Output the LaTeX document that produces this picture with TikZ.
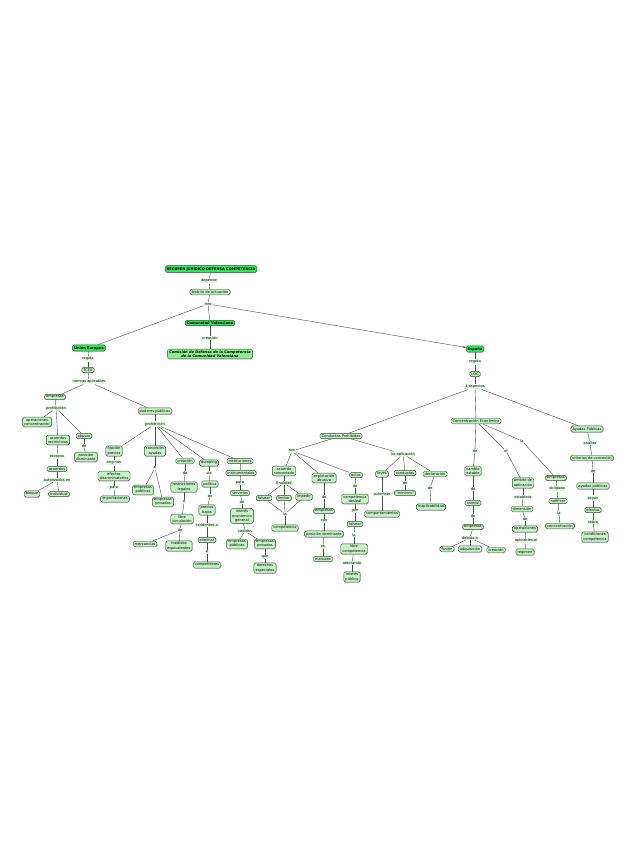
\documentclass[tikz,border=0pt]{standalone}
\usepackage{fontspec}
\setmainfont{DejaVu Sans}
\usetikzlibrary{backgrounds,shadows,arrows.meta}
\definecolor{mainG}{HTML}{2EE65A}
\definecolor{litG}{HTML}{C6F3C6}
\definecolor{comG}{HTML}{8CF08C}
\definecolor{bordG}{HTML}{2F4F2F}
\definecolor{lnkG}{HTML}{E2FAE2}
\definecolor{edgeC}{HTML}{4A4A4A}
\tikzset{
  cpt/.style={draw=bordG, line width=0.45pt, fill=litG, rounded corners=1.6pt, inner xsep=1.6pt, inner ysep=1.3pt,
    align=center, font=\fontsize{3.6}{4.2}\selectfont, drop shadow={shadow xshift=0.5pt, shadow yshift=-0.5pt, opacity=0.35}},
  mainbox/.style={cpt, fill=mainG, font=\fontsize{3.6}{4.2}\selectfont\bfseries},
  combox/.style={cpt, fill=comG, font=\fontsize{3.6}{4.2}\selectfont\bfseries\itshape},
  lk/.style={fill=lnkG, inner xsep=0.8pt, inner ysep=0.6pt, font=\fontsize{3.6}{4.2}\selectfont, align=center},
  ed/.style={draw=edgeC, line width=0.4pt}
}
\begin{document}
\begin{tikzpicture}[x=1pt,y=-1pt]
\useasboundingbox (0,0) rectangle (638,848);
% top
\node[mainbox] (t1) at (211,269) {RÉGIMEN JURÍDICO DEFENSA COMPETENCIA};
\node[lk] (l1) at (209,281) {depende};
\node[cpt] (camb) at (210,292) {ámbito de actuación};
\node[lk] (ltres) at (208,304) {tres};
\node[mainbox] (ccv) at (210,323) {Comunidad Valenciana};
\node[lk] (lcrea) at (210,338) {creación};
\node[combox] (ccom) at (210,354) {Comisión de Defensa de la Competencia\\de la Comunidad Valenciana};
% Union Europea
\node[mainbox] (cue) at (89,348) {Unión Europea};
\node[lk] (lreg1) at (88,359) {regida};
\node[cpt] (ctcee) at (88,370) {TCEE};
\node[lk] (lnorm) at (89,382) {normas aplicables};
\node[cpt] (cemp1) at (55,397) {empresas};
\node[lk] (lproh1) at (56,408) {prohibición};
\node[cpt] (copc) at (37,422) {operaciones\\concentración};
\node[cpt] (cacr) at (58,440) {acuerdos\\restrictivos};
\node[cpt] (cabu) at (84,436) {abusos};
\node[lk] (lde1) at (84,446) {de};
\node[cpt] (cpd1) at (86,457) {posición\\dominante};
\node[lk] (lexc) at (57,457) {excepto};
\node[cpt] (cacu) at (57,469) {acuerdos};
\node[lk] (laut) at (57,480) {autorizados en};
\node[cpt] (cblo) at (32,494) {bloque};
\node[cpt] (cind) at (59,494) {individual};
% poderes publicos
\node[cpt] (cpp) at (155,411) {poderes públicos};
\node[lk] (lproh2) at (155,424) {prohibición};
\node[cpt] (cfij) at (114,451) {fijación\\precios};
\node[lk] (lorig) at (114,463) {originan};
\node[cpt] (cefd) at (114,476) {efectos\\discriminatorios};
\node[lk] (lpara1) at (114,488) {para};
\node[cpt] (cimp) at (115,499) {importaciones};
\node[cpt] (ccon) at (155,451) {concesión\\ayudas};
\node[lk] (la1) at (155,468) {a};
\node[cpt] (cepu1) at (143,490) {empresas\\públicas};
\node[cpt] (cepr1) at (163,502) {empresas\\privadas};
\node[cpt] (ccre) at (185,461) {creación};
\node[lk] (lde2) at (185,473) {de};
\node[cpt] (cres) at (184,487) {restricciones\\legales};
\node[lk] (la2) at (184,502) {a};
\node[cpt] (clib) at (182,519) {libre\\circulación};
\node[lk] (lde3) at (180,530) {de};
\node[cpt] (cmer) at (145,544) {mercancías};
\node[cpt] (cmed) at (179,546) {medidas\\equivalentes};
\node[cpt] (cdum) at (209,463) {dumping};
\node[lk] (lvia) at (209,473) {vía};
\node[cpt] (cpol) at (210,484) {política};
\node[lk] (lde4) at (210,496) {de};
\node[cpt] (cpb) at (207,510) {precios\\bajos};
\node[lk] (ltend) at (207,525) {tendentes a};
\node[cpt] (celi) at (207,540) {eliminar};
\node[lk] (la3) at (207,552) {a};
\node[cpt] (ccomp) at (207,565) {competidores};
\node[cpt] (cins) at (240,461) {instituciones};
\node[cpt] (cinst2) at (241,473) {instrumentales};
\node[lk] (lpara2) at (240,483) {para};
\node[cpt] (cserv) at (240,493) {servicios};
\node[lk] (lde5) at (242,502) {de};
\node[cpt] (cieg) at (242,516) {interés\\económico\\general};
\node[lk] (lced) at (245,531) {cedidos};
\node[cpt] (cepu2) at (237,544) {empresas\\públicas};
\node[cpt] (cepr2) at (265,544) {empresas\\privadas};
\node[lk] (lque) at (265,557) {que};
\node[cpt] (cder) at (265,568) {derechos\\especiales};
% Espana
\node[mainbox] (ces) at (475,349) {España};
\node[lk] (lreg2) at (475,362) {regida};
\node[cpt] (cldc) at (475,374) {LDC};
\node[lk] (l3asp) at (475,387) {3 aspectos};
\node[cpt] (ccp) at (341,436) {Conductas Prohibidas};
\node[cpt] (cce) at (476,421) {Concentración Económica};
\node[cpt] (cap) at (587,429) {Ayudas Públicas};
% conductas prohibidas
\node[lk] (lson) at (292,451) {son};
\node[cpt] (cac) at (284,471) {acuerdo\\concertado};
\node[lk] (lfin) at (284,483) {finalidad};
\node[cpt] (cfal1) at (264,498) {falsear};
\node[cpt] (clim) at (284,498) {limitar};
\node[cpt] (cimpd) at (304,497) {impedir};
\node[lk] (lla1) at (285,514) {la};
\node[cpt] (ccompe) at (285,528) {competencia};
\node[cpt] (ceab) at (324,478) {explotación\\abusiva};
\node[lk] (lde6) at (324,497) {de};
\node[cpt] (cemp2) at (324,511) {empresas};
\node[lk] (lcon) at (324,521) {con};
\node[cpt] (cpd2) at (324,534) {posición dominante};
\node[lk] (len) at (323,547) {en};
\node[cpt] (cmerc) at (323,559) {mercado};
\node[cpt] (cact) at (356,475) {actos};
\node[lk] (lde7) at (355,486) {de};
\node[cpt] (ccd) at (355,499) {competencia\\desleal};
\node[lk] (lpor) at (355,511) {por};
\node[cpt] (cfal2) at (355,524) {falsear};
\node[lk] (lla2) at (354,535) {la};
\node[cpt] (clc) at (354,549) {libre\\competencia};
\node[lk] (lafe) at (352,563) {afectando};
\node[cpt] (cip) at (352,577) {interés\\público};
\node[lk] (lnoap) at (403,454) {no aplicación};
\node[cpt] (cley) at (382,474) {leyes};
\node[lk] (laut2) at (382,494) {autorizan};
\node[cpt] (ccomport) at (382,514) {comportamientos};
\node[cpt] (ccond) at (405,473) {conductas};
\node[lk] (lde8) at (405,483) {de};
\node[cpt] (cmin) at (405,493) {“minimis”};
\node[cpt] (cdecl) at (435,474) {declaración};
\node[lk] (lde9) at (430,488) {de};
\node[cpt] (cinap) at (431,507) {inaplicabilidad};
% concentracion
\node[lk] (lde10) at (475,451) {de};
\node[cpt] (ccam) at (473,471) {cambio\\estable};
\node[lk] (lde11) at (473,489) {de};
\node[cpt] (cctrl) at (473,503) {control};
\node[lk] (lde12) at (473,516) {de};
\node[cpt] (cemp3) at (473,527) {empresas};
\node[lk] (ldeb) at (470,538) {debido a};
\node[cpt] (cfus) at (447,549) {fusión};
\node[cpt] (cadq) at (470,549) {adquisición};
\node[cpt] (ccrea2) at (496,550) {creación};
\node[lk] (lel) at (506,451) {el};
\node[cpt] (camb2) at (523,483) {ámbito de\\aplicación};
\node[lk] (lest) at (523,497) {establece};
\node[cpt] (cdim) at (522,509) {dimensión};
\node[lk] (lde13) at (525,519) {de};
\node[cpt] (coper) at (525,529) {operaciones};
\node[lk] (lapl) at (526,541) {aplicables al};
\node[cpt] (creg) at (525,552) {régimen};
\node[lk] (lla3) at (522,441) {la};
\node[cpt] (cemp4) at (556,478) {empresas};
\node[lk] (lobl) at (557,489) {obligada};
\node[cpt] (cnot) at (558,501) {notificar};
\node[lk] (lla4) at (559,513) {la};
\node[cpt] (cconc) at (560,526) {concentración};
% ayudas
\node[lk] (lana) at (590,443) {analiza};
\node[cpt] (ccrit) at (592,458) {criterios de concesión};
\node[lk] (lde14) at (593,471) {de};
\node[cpt] (cayp) at (593,486) {ayudas públicas};
\node[lk] (lseg) at (593,498) {según};
\node[cpt] (cefe) at (593,510) {efectos};
\node[lk] (lsob) at (593,522) {sobre};
\node[cpt] (cccomp) at (595,537) {condiciones\\competencia};
\begin{scope}[on background layer]
\foreach \a/\b in {t1/l1, l1/camb, camb/ltres, ltres/cue, ltres/ccv, ccv/lcrea, lcrea/ccom,
  cue/lreg1, lreg1/ctcee, ctcee/lnorm, lnorm/cemp1, lnorm/cpp,
  cemp1/lproh1, lproh1/copc, lproh1/cacr, lproh1/cabu, cabu/lde1, lde1/cpd1, cacr/lexc, lexc/cacu, cacu/laut, laut/cblo, laut/cind,
  cpp/lproh2, lproh2/cfij, lproh2/ccon, lproh2/ccre, lproh2/cdum, lproh2/cins,
  cfij/lorig, lorig/cefd, cefd/lpara1, lpara1/cimp,
  ccon/la1, la1/cepu1, la1/cepr1,
  ccre/lde2, lde2/cres, cres/la2, la2/clib, clib/lde3, lde3/cmer, lde3/cmed,
  cdum/lvia, lvia/cpol, cpol/lde4, lde4/cpb, cpb/ltend, ltend/celi, celi/la3, la3/ccomp,
  cins/cinst2, cinst2/lpara2, lpara2/cserv, cserv/lde5, lde5/cieg, cieg/lced, lced/cepu2, lced/cepr2, cepr2/lque, lque/cder,
  ces/lreg2, lreg2/cldc, cldc/l3asp, l3asp/ccp, l3asp/cce, l3asp/cap,
  ccp/lson, ccp/lnoap, lson/cac, lson/ceab, lson/cact,
  cac/lfin, lfin/cfal1, lfin/clim, lfin/cimpd, cfal1/lla1, clim/lla1, cimpd/lla1, lla1/ccompe,
  ceab/lde6, lde6/cemp2, cemp2/lcon, lcon/cpd2, cpd2/len, len/cmerc,
  cact/lde7, lde7/ccd, ccd/lpor, lpor/cfal2, cfal2/lla2, lla2/clc, clc/lafe, lafe/cip,
  lnoap/cley, lnoap/ccond, lnoap/cdecl, cley/laut2, laut2/ccomport, ccond/lde8, lde8/cmin, cdecl/lde9, lde9/cinap,
  cce/lde10, lde10/ccam, ccam/lde11, lde11/cctrl, cctrl/lde12, lde12/cemp3, cemp3/ldeb, ldeb/cfus, ldeb/cadq, ldeb/ccrea2,
  cce/lel, lel/camb2, camb2/lest, lest/cdim, cdim/lde13, lde13/coper, coper/lapl, lapl/creg,
  cce/lla3, lla3/cemp4, cemp4/lobl, lobl/cnot, cnot/lla4, lla4/cconc,
  cap/lana, lana/ccrit, ccrit/lde14, lde14/cayp, cayp/lseg, lseg/cefe, cefe/lsob, lsob/cccomp}
  \draw[ed] (\a) -- (\b);
\draw[ed, -{Latex[length=2.5pt,width=2pt]}] (ltres) -- (ces);
\end{scope}
\end{tikzpicture}
\end{document}
